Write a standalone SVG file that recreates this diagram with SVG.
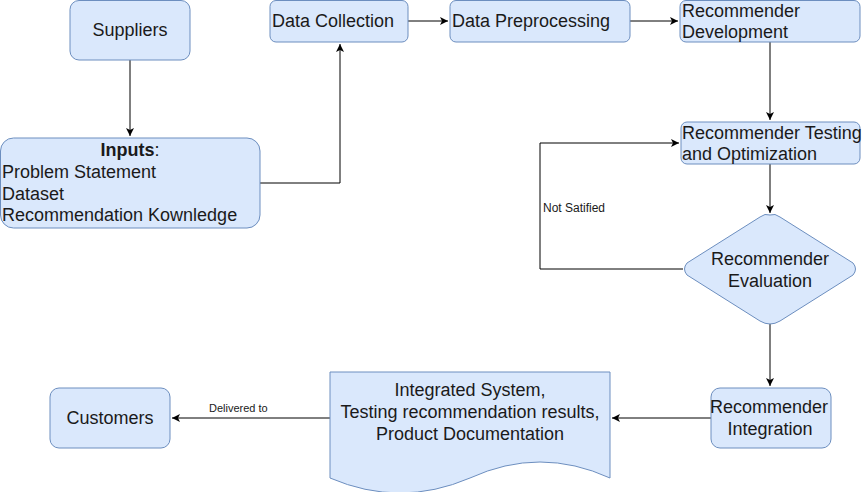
<svg xmlns="http://www.w3.org/2000/svg" width="863" height="492" viewBox="0 0 863 492">
<style>
.n{fill:#dae8fc;stroke:#6c8ebf;stroke-width:1}
.t{font-family:"Liberation Sans",Arial,sans-serif;font-size:18px;fill:#1a1a1a}
.c{text-anchor:middle}
.e{fill:none;stroke:#000;stroke-width:1}
.s{font-family:"Liberation Sans",Arial,sans-serif;fill:#1a1a1a}
</style>
<defs>
<marker id="a" markerUnits="userSpaceOnUse" markerWidth="10" markerHeight="10" refX="8" refY="4" orient="auto">
<path d="M0,0 L8,4 L0,8 L2,4 z" fill="#000"/>
</marker>
</defs>
<rect width="863" height="492" fill="#fff"/>
<g id="connectors">
<path class="e" d="M130,60 V136" marker-end="url(#a)"/>
<path class="e" d="M260,183 H340 V44" marker-end="url(#a)"/>
<path class="e" d="M408,21 H448" marker-end="url(#a)"/>
<path class="e" d="M630,21 H678" marker-end="url(#a)"/>
<path class="e" d="M770,42 V120" marker-end="url(#a)"/>
<path class="e" d="M770,164 V213" marker-end="url(#a)"/>
<path class="e" d="M683,269 H540 V143 H679" marker-end="url(#a)"/>
<text class="s" x="543" y="212" font-size="12">Not Satified</text>
<path class="e" d="M770,323 V386" marker-end="url(#a)"/>
<path class="e" d="M711,418 H612" marker-end="url(#a)"/>
<path class="e" d="M330,418 H172" marker-end="url(#a)"/>
<text class="s" x="209" y="412" font-size="11">Delivered to</text>
</g>
<g id="suppliers">
<rect class="n" x="70" y="0.5" width="120" height="59.5" rx="9"/>
<text class="t c" x="130" y="36">Suppliers</text>
</g>
<g id="inputs">
<rect class="n" x="0.5" y="138" width="259.5" height="90" rx="13"/>
<text class="t c" x="130" y="156"><tspan font-weight="bold">Inputs</tspan>:</text>
<text class="t" x="2" y="178">Problem Statement</text>
<text class="t" x="2" y="200">Dataset</text>
<text class="t" x="2" y="221">Recommendation Kownledge</text>
</g>
<g id="data-collection">
<rect class="n" x="270" y="0.5" width="138" height="41.5" rx="6"/>
<text class="t" x="272" y="27">Data Collection</text>
</g>
<g id="data-preprocessing">
<rect class="n" x="450" y="0.5" width="180" height="41.5" rx="6"/>
<text class="t" x="452" y="27">Data Preprocessing</text>
</g>
<g id="recommender-development">
<rect class="n" x="680" y="0.5" width="180" height="41.5" rx="6"/>
<text class="t" x="682" y="17">Recommender</text>
<text class="t" x="682" y="38">Development</text>
</g>
<g id="recommender-testing">
<rect class="n" x="681" y="122" width="179" height="42" rx="6"/>
<text class="t" x="682" y="139">Recommender Testing</text>
<text class="t" x="682" y="160">and Optimization</text>
</g>
<g id="recommender-evaluation">
<path class="n" d="M770,215 Q775,213 780,217 L853,263 Q858,269 853,275 L780,321 Q770,327 760,321 L687,275 Q682,269 687,263 L760,217 Q765,213 770,215 z"/>
<text class="t c" x="770" y="265">Recommender</text>
<text class="t c" x="770" y="287">Evaluation</text>
</g>
<g id="recommender-integration">
<rect class="n" x="711" y="388" width="120" height="60" rx="9"/>
<text class="t c" x="769" y="413">Recommender</text>
<text class="t c" x="770" y="435">Integration</text>
</g>
<g id="deliverables">
<path class="n" d="M330,372 H610 V478 Q540,446 470,478 Q400,508 330,478 z"/>
<text class="t c" x="470" y="396">Integrated System,</text>
<text class="t c" x="470" y="418">Testing recommendation results,</text>
<text class="t c" x="470" y="440">Product Documentation</text>
</g>
<g id="customers">
<rect class="n" x="50" y="388" width="120" height="60" rx="9"/>
<text class="t c" x="110" y="424">Customers</text>
</g>
</svg>
